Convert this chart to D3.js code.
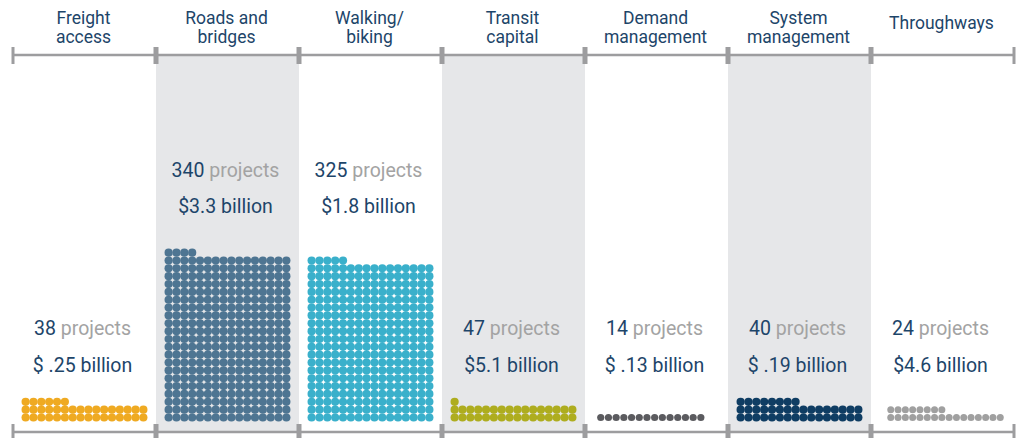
<!DOCTYPE html>
<html>
<head>
<meta charset="utf-8">
<script src="https://cdn.jsdelivr.net/npm/d3@7"></script>
<style>
  body { margin: 0; background: #fff; }
  svg text { font-family: Roboto, "Open Sans", sans-serif; }
</style>
</head>
<body>
<div id="chart"></div>
<script>
// categories, two-line headers
const categories = [["Freight", "access"], ["Roads and", "bridges"], ["Walking/", "biking"], ["Transit", "capital"], ["Demand", "management"], ["System", "management"], ["Throughways"]];
const projects = [38, 340, 325, 47, 14, 40, 24];
const dollars = ["$ .25 billion", "$3.3 billion", "$1.8 billion", "$5.1 billion", "$ .13 billion", "$ .19 billion", "$4.6 billion"];
// dots drawn in each column (as counted in the picture)
const dotCounts = [38, 340, 325, 33, 14, 40, 24];
const colors = ["#efaa22", "#4e7592", "#3ab0cb", "#aead1f", "#5b5b5f", "#0f3d63", "#a0a0a0"];
const shaded = [false, true, false, true, false, true, false];

const W = 1021, H = 438;
const cfg = {
	left: 13, right: 1014,
	topLine: 55, bottomLine: 432,
	perRow: 16, step: 7.85, r: 4.1,
	baseY: 417.5,
	gridColor: "#9d9d9f",
	textBlue: "#1d4569",
	textGrey: "#a3a3a3"
};
// grey columns use slightly smaller dots
const colStep = [7.85, 7.85, 7.85, 7.85, 7.7, 7.85, 7.3];
const colR = [4.1, 4.1, 4.1, 4.1, 3.6, 4.1, 3.5];

const svg = d3.select("#chart").append("svg")
	.attr("width", W)
	.attr("height", H);

const x = d3.scaleBand()
	.domain(d3.range(categories.length))
	.range([cfg.left, cfg.right])
	.padding(0);

// shaded columns
svg.selectAll(".shade")
	.data(d3.range(categories.length).filter(function (i) { return shaded[i]; }))
	.enter()
	.append("rect")
	.attr("x", function (i) { return x(i); })
	.attr("y", cfg.topLine)
	.attr("width", x.bandwidth())
	.attr("height", cfg.bottomLine - cfg.topLine)
	.style("fill", "#e6e7e9");

// horizontal lines with ticks
[cfg.topLine, cfg.bottomLine].forEach(function (yy) {
	svg.append("line")
		.attr("x1", cfg.left).attr("x2", cfg.right)
		.attr("y1", yy).attr("y2", yy)
		.style("stroke", cfg.gridColor)
		.style("stroke-width", 2.6);
	const edges = d3.range(categories.length + 1).map(function (i) {
		return i < categories.length ? x(i) : cfg.right;
	});
	svg.selectAll(null)
		.data(edges)
		.enter()
		.append("line")
		.attr("x1", function (d) { return d; })
		.attr("x2", function (d) { return d; })
		.attr("y1", yy - 8)
		.attr("y2", yy + 9)
		.style("stroke", cfg.gridColor)
		.style("stroke-width", function (d, i) { return (i === 0 || i === edges.length - 1) ? 3 : 5; });
});

// headers
const header = svg.selectAll(".header")
	.data(categories)
	.enter()
	.append("text")
	.attr("class", "header")
	.attr("text-anchor", "middle")
	.style("font-size", "17.5px")
	.style("fill", cfg.textBlue);

header.each(function (lines, i) {
	const t = d3.select(this);
	const cx = x(i) + x.bandwidth() / 2 - 1;
	const y0 = lines.length === 1 ? 29 : 24;
	lines.forEach(function (ln, k) {
		t.append("tspan")
			.attr("x", cx)
			.attr("y", y0 + k * 19)
			.text(ln);
	});
});

// dots
categories.forEach(function (c, i) {
	const n = dotCounts[i];
	const st = colStep[i];
	const gridW = (cfg.perRow - 1) * st;
	const x0 = x(i) + x.bandwidth() / 2 - gridW / 2 + (i === 6 ? 3 : 0) + (i === 4 ? 2 : 0);
	svg.selectAll(null)
		.data(d3.range(n))
		.enter()
		.append("circle")
		.attr("cx", function (k) { return x0 + (k % cfg.perRow) * st; })
		.attr("cy", function (k) { return cfg.baseY - Math.floor(k / cfg.perRow) * cfg.step; })
		.attr("r", colR[i])
		.style("fill", colors[i]);
});

// labels
categories.forEach(function (c, i) {
	const cx = x(i) + x.bandwidth() / 2 - 2;
	const rows = Math.ceil(dotCounts[i] / cfg.perRow);
	const high = rows > 3;
	const y1 = high ? 177 : 335;
	const y2 = high ? 213 : 372;

	const t = svg.append("text")
		.attr("x", cx)
		.attr("y", y1)
		.attr("text-anchor", "middle")
		.style("font-size", "19.5px");
	t.append("tspan").style("fill", cfg.textBlue).text(projects[i]);
	t.append("tspan").style("fill", cfg.textGrey).text(" projects");

	svg.append("text")
		.attr("x", cx)
		.attr("y", y2)
		.attr("text-anchor", "middle")
		.style("font-size", "19.5px")
		.style("fill", cfg.textBlue)
		.text(dollars[i]);
});
</script>
</body>
</html>
